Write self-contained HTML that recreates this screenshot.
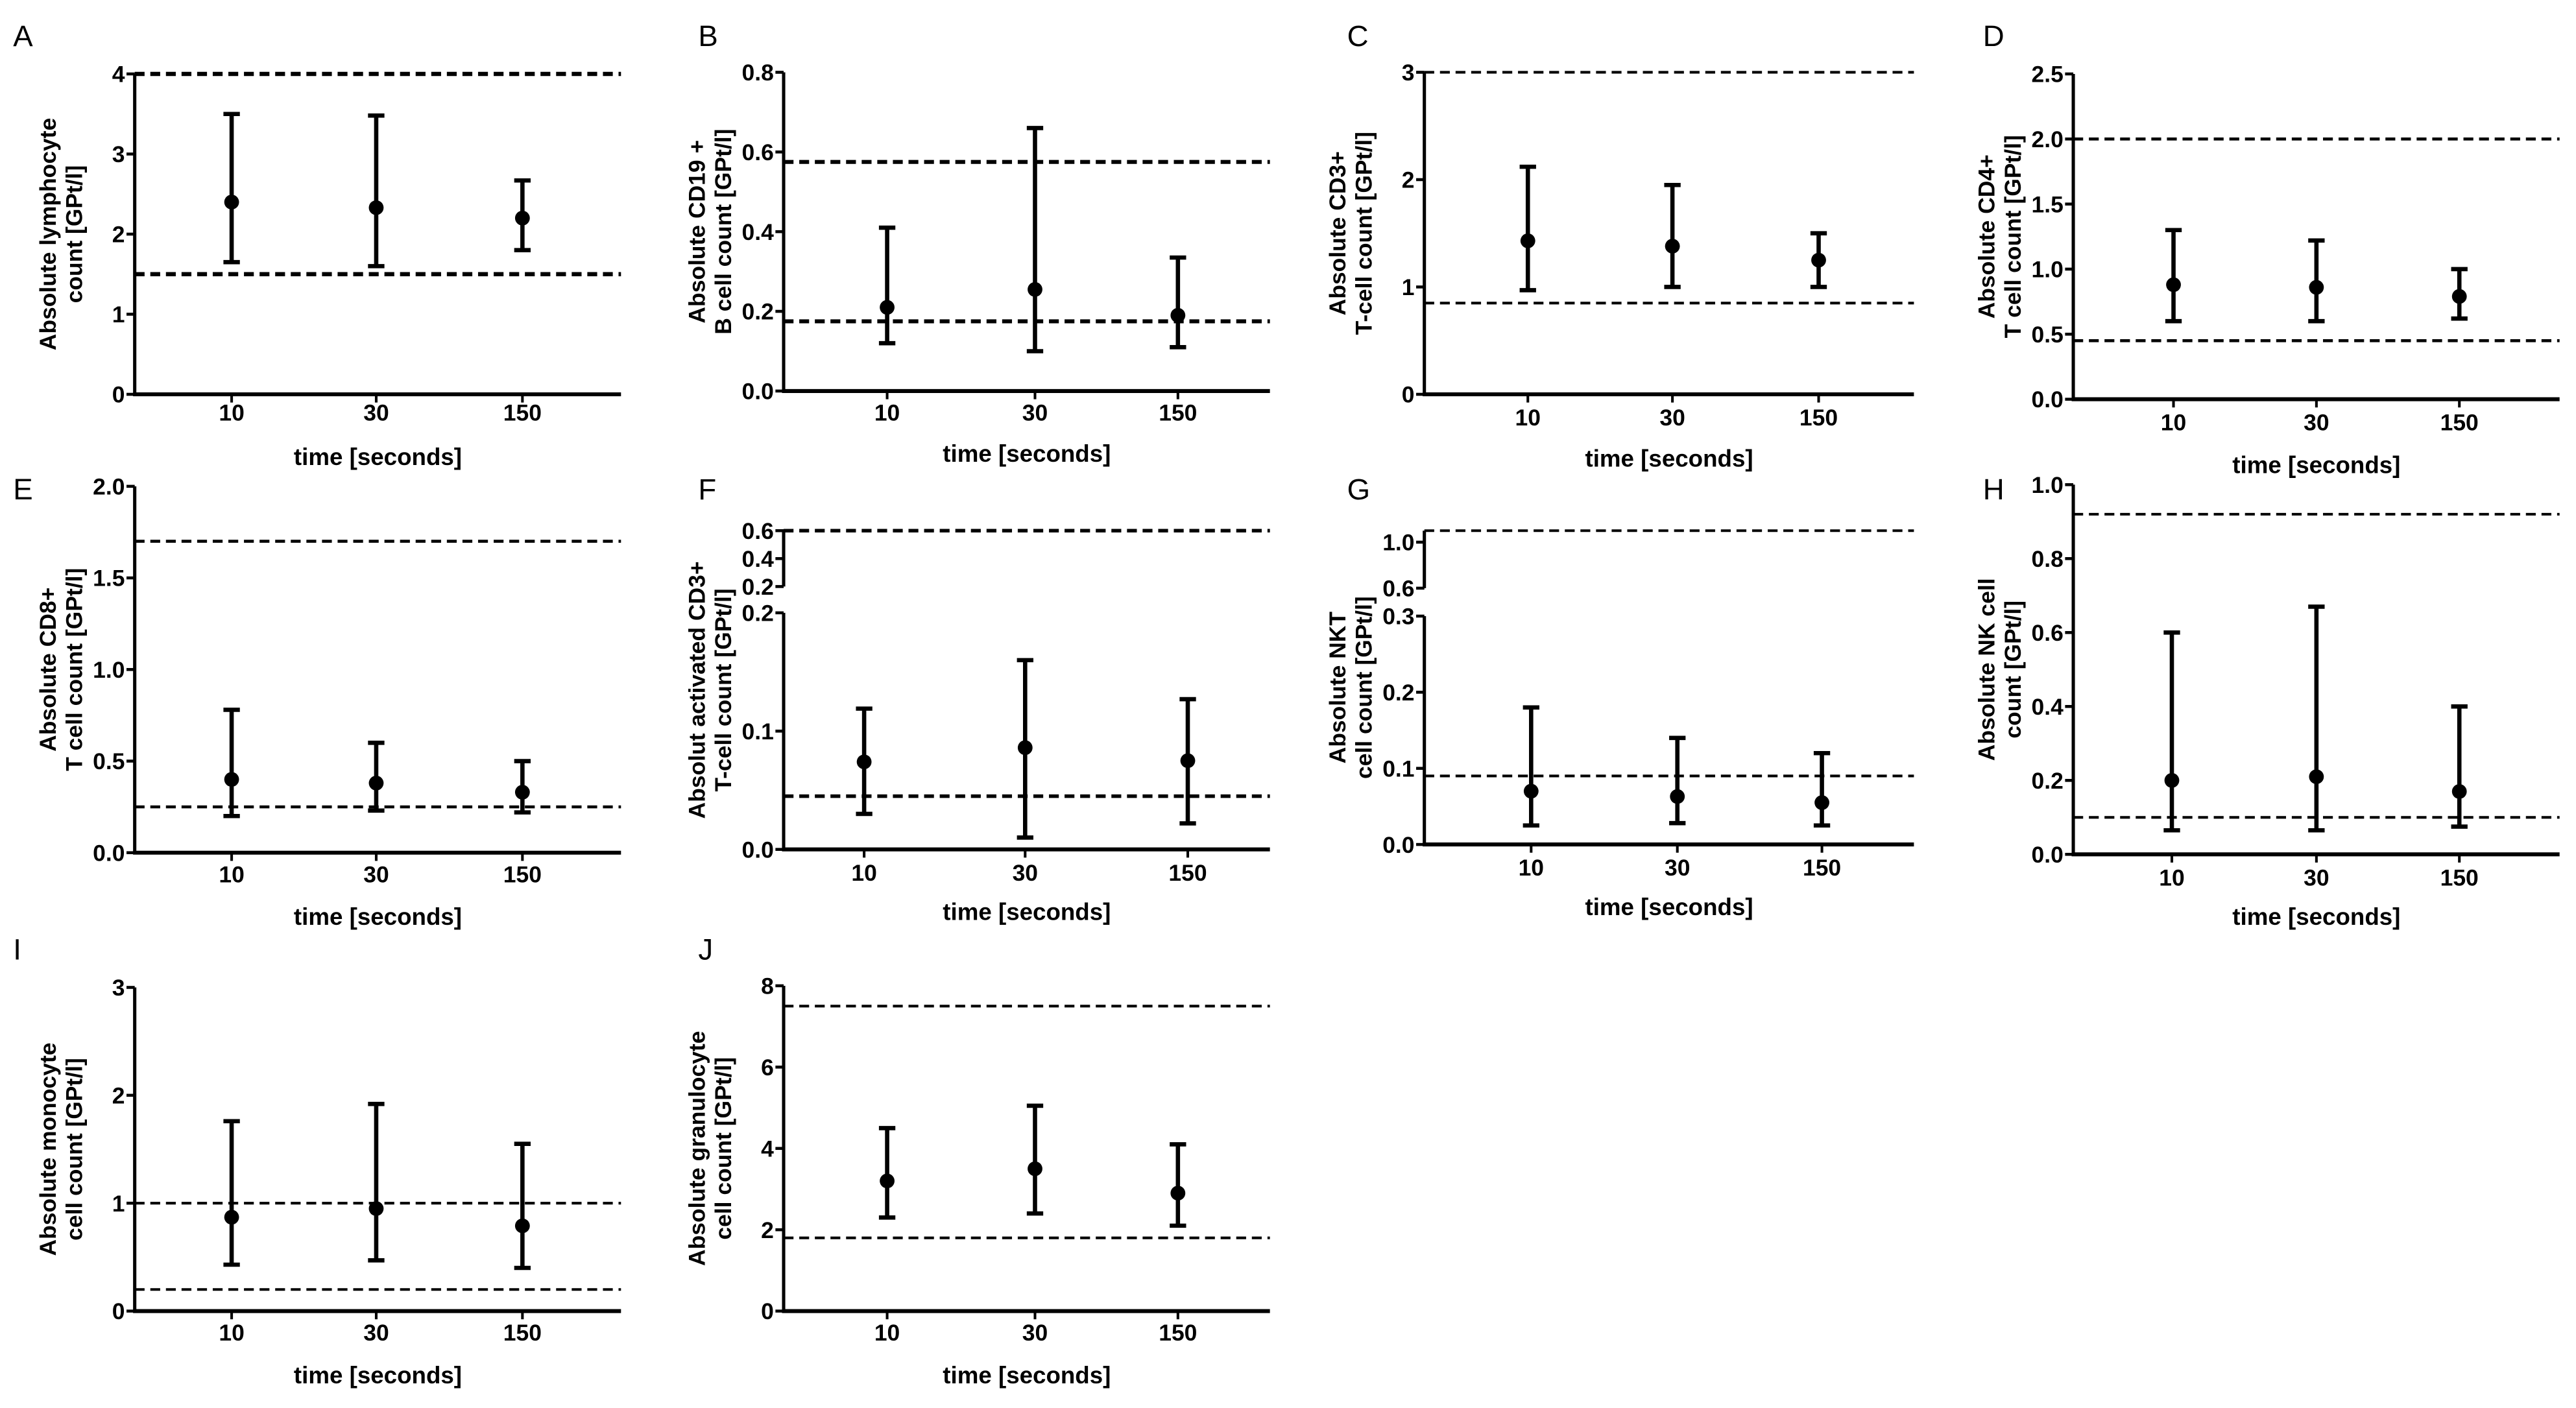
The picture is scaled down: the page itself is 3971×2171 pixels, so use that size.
<!DOCTYPE html>
<html><head><meta charset="utf-8"><style>
html,body{margin:0;padding:0;background:#fff;}
svg{display:block;}
text{font-family:"Liberation Sans",sans-serif;fill:#000;}
</style></head><body>
<svg id="fig" width="3971" height="2171" viewBox="0 0 1568 857" preserveAspectRatio="none" xmlns="http://www.w3.org/2000/svg"></svg>
<script>
const categories = ["10","30","150"];
const meanA=[2.4,2.33,2.2], lowA=[1.65,1.6,1.8], highA=[3.5,3.48,2.67], refA=[4,1.5];
const meanB=[0.21,0.255,0.19], lowB=[0.12,0.1,0.11], highB=[0.41,0.66,0.335], refB=[0.575,0.175];
const meanC=[1.43,1.38,1.25], lowC=[0.97,1.0,1.0], highC=[2.12,1.95,1.5], refC=[3.0,0.85];
const meanD=[0.88,0.86,0.79], lowD=[0.6,0.6,0.62], highD=[1.3,1.22,1.0], refD=[2.0,0.45];
const meanE=[0.4,0.38,0.33], lowE=[0.2,0.23,0.22], highE=[0.78,0.6,0.5], refE=[1.7,0.25];
const meanF=[0.074,0.086,0.075], lowF=[0.03,0.01,0.022], highF=[0.119,0.16,0.127], refF=[0.6,0.045];
const meanG=[0.07,0.063,0.055], lowG=[0.025,0.028,0.025], highG=[0.18,0.14,0.12], refG=[1.1,0.09];
const meanH=[0.2,0.21,0.17], lowH=[0.065,0.065,0.075], highH=[0.6,0.67,0.4], refH=[0.92,0.1];
const meanI=[0.87,0.95,0.79], lowI=[0.43,0.47,0.4], highI=[1.76,1.92,1.55], refI=[1.0,0.2];
const meanJ=[3.2,3.5,2.9], lowJ=[2.3,2.4,2.1], highJ=[4.5,5.05,4.1], refJ=[7.5,1.8];
const ticksA=[0,1,2,3,4], ticksB=[0,0.2,0.4,0.6,0.8], ticksC=[0,1,2,3], ticksD=[0,0.5,1,1.5,2,2.5];
const ticksE=[0,0.5,1,1.5,2], ticksFlow=[0,0.1,0.2], ticksFup=[0.2,0.4,0.6];
const ticksGlow=[0,0.1,0.2,0.3], ticksGup=[0.6,1.0], ticksH=[0,0.2,0.4,0.6,0.8,1.0], ticksI=[0,1,2,3], ticksJ=[0,2,4,6,8];

const NS="http://www.w3.org/2000/svg";
const svg=document.getElementById('fig');
function el(tag,attrs,parent){const e=document.createElementNS(NS,tag);for(const k in attrs)e.setAttribute(k,attrs[k]);(parent||svg).appendChild(e);return e;}

const panels=[
 {id:'a',L:'A',lx:8,ly:28,ax:82,right:378,y0:240,lines:["Absolute lymphocyte","count [GPt/l]"],cx:[141,229,318],tl:256,xl:283,
  seg:[{d0:0,d1:4,p0:240,p1:45,ticks:ticksA,dec:0}],mean:meanA,low:lowA,high:highA,ref:refA,dw:2.6},
 {id:'b',L:'B',lx:425,ly:28,ax:477,right:773,y0:238,lines:["Absolute CD19 +","B cell count [GPt/l]"],cx:[540,630,717],tl:256,xl:281,
  seg:[{d0:0,d1:0.8,p0:238,p1:44,ticks:ticksB,dec:1}],mean:meanB,low:lowB,high:highB,ref:refB,dw:2.4},
 {id:'c',L:'C',lx:820,ly:28,ax:867,right:1165,y0:240,lines:["Absolute CD3+","T-cell count [GPt/l]"],cx:[930,1018,1107],tl:259,xl:284,
  seg:[{d0:0,d1:3,p0:240,p1:44,ticks:ticksC,dec:0}],mean:meanC,low:lowC,high:highC,ref:refC,dw:1.6},
 {id:'d',L:'D',lx:1207,ly:28,ax:1262,right:1558,y0:243,lines:["Absolute CD4+","T cell count [GPt/l]"],cx:[1323,1410,1497],tl:262,xl:288,
  seg:[{d0:0,d1:2.5,p0:243,p1:45,ticks:ticksD,dec:1}],mean:meanD,low:lowD,high:highD,ref:refD,dw:1.8},
 {id:'e',L:'E',lx:8,ly:304,ax:82,right:378,y0:519,lines:["Absolute CD8+","T cell count [GPt/l]"],cx:[141,229,318],tl:537,xl:563,
  seg:[{d0:0,d1:2,p0:519,p1:296,ticks:ticksE,dec:1}],mean:meanE,low:lowE,high:highE,ref:refE,dw:1.8},
 {id:'f',L:'F',lx:425,ly:304,ax:477,right:773,y0:517,lines:["Absolut activated CD3+","T-cell count [GPt/l]"],cx:[526,624,723],tl:536,xl:560,
  seg:[{d0:0,d1:0.2,p0:517,p1:373,ticks:ticksFlow,dec:1},{d0:0.2,d1:0.6,p0:357,p1:323,ticks:ticksFup,dec:1}],mean:meanF,low:lowF,high:highF,ref:refF,dw:2.2},
 {id:'g',L:'G',lx:820,ly:304,ax:867,right:1165,y0:514,lines:["Absolute NKT","cell count [GPt/l]"],cx:[932,1021,1109],tl:533,xl:557,
  seg:[{d0:0,d1:0.3,p0:514,p1:375,ticks:ticksGlow,dec:1},{d0:0.6,d1:1.1,p0:358,p1:323,ticks:ticksGup,dec:1}],mean:meanG,low:lowG,high:highG,ref:refG,dw:1.6},
 {id:'h',L:'H',lx:1207,ly:304,ax:1262,right:1558,y0:520,lines:["Absolute NK cell","count [GPt/l]"],cx:[1322,1410,1497],tl:539,xl:563,
  seg:[{d0:0,d1:1,p0:520,p1:295,ticks:ticksH,dec:1}],mean:meanH,low:lowH,high:highH,ref:refH,dw:1.6},
 {id:'i',L:'I',lx:8,ly:584,ax:82,right:378,y0:798,lines:["Absolute monocyte","cell count [GPt/l]"],cx:[141,229,318],tl:816,xl:842,
  seg:[{d0:0,d1:3,p0:798,p1:601,ticks:ticksI,dec:0}],mean:meanI,low:lowI,high:highI,ref:refI,dw:1.6},
 {id:'j',L:'J',lx:425,ly:584,ax:477,right:773,y0:798,lines:["Absolute granulocyte","cell count [GPt/l]"],cx:[540,630,717],tl:816,xl:842,
  seg:[{d0:0,d1:8,p0:798,p1:600,ticks:ticksJ,dec:0}],mean:meanJ,low:lowJ,high:highJ,ref:refJ,dw:1.6}
];

panels.forEach(p=>{
  const g=el('g',{});
  
  
  function y(v){
    for(const s of p.seg){ if(v>=s.d0-1e-9 && v<=s.d1+1e-9) return s.p0+(v-s.d0)/(s.d1-s.d0)*(s.p1-s.p0); }
    const s=p.seg[p.seg.length-1]; return s.p0+(v-s.d0)/(s.d1-s.d0)*(s.p1-s.p0);
  }
  const lt=el('text',{x:p.lx,y:p.ly,'font-size':18},g); lt.textContent=p.L;
  
  
  p.seg.forEach((s,i)=>{
    const ax=el('line',{x1:p.ax,x2:p.ax,y1:s.p0+(i==0?1:0),y2:s.p1,stroke:'#000','stroke-width':2},g);
    
    
    s.ticks.forEach(t=>{
      const ty=s.p0+(t-s.d0)/(s.d1-s.d0)*(s.p1-s.p0);
      const tk=el('line',{x1:p.ax-5,x2:p.ax,y1:ty,y2:ty,stroke:'#000','stroke-width':1.8},g);
      
      
      const tx=el('text',{x:p.ax-6,y:ty+5,'font-size':14,'font-weight':'bold','text-anchor':'end'},g);
      tx.textContent=t.toFixed(s.dec);
      
      
    });
  });
  const xa=el('line',{x1:p.ax-1,x2:p.right,y1:p.y0,y2:p.y0,stroke:'#000','stroke-width':2.4},g);
  
  
  categories.forEach((c,i)=>{
    const tk=el('line',{x1:p.cx[i],x2:p.cx[i],y1:p.y0,y2:p.y0+5,stroke:'#000','stroke-width':1.6},g);
    
    
    const tx=el('text',{x:p.cx[i],y:p.tl,'font-size':14,'font-weight':'bold','text-anchor':'middle'},g);
    tx.textContent=c;
    
    
  });
  const xt=el('text',{x:(p.ax+p.right)/2,y:p.xl,'font-size':14.5,'font-weight':'bold','text-anchor':'middle'},g);
  xt.textContent='time [seconds]';
  
  
  const ymid=(p.y0+p.seg[p.seg.length-1].p1)/2;
  p.lines.forEach((ln,k)=>{
    const xx=p.ax-48+k*16;
    const t=el('text',{x:xx,y:ymid,'font-size':14,'font-weight':'bold','text-anchor':'middle',transform:`rotate(-90 ${xx} ${ymid})`},g);
    t.textContent=ln;
    
    
  });
  p.ref.forEach(r=>{
    const ry=y(r);
    const rl=el('line',{x1:p.ax,x2:p.right,y1:ry,y2:ry,stroke:'#000','stroke-width':p.dw,'stroke-dasharray':'6 3.5'},g);
    
    
  });
  categories.forEach((c,i)=>{
    const x=p.cx[i], yl=y(p.low[i]), yh=y(p.high[i]), ym=y(p.mean[i]);
    const eb=el('line',{x1:x,x2:x,y1:yl,y2:yh,stroke:'#000','stroke-width':2.6},g);
    
    
    [yl,yh].forEach(cy=>{
      const cap=el('line',{x1:x-5,x2:x+5,y1:cy,y2:cy,stroke:'#000','stroke-width':2.6},g);
      
      
    });
    const dot=el('circle',{cx:x,cy:ym,r:4.5,fill:'#000'},g);
    
    
  });
});
</script>
</body></html>
